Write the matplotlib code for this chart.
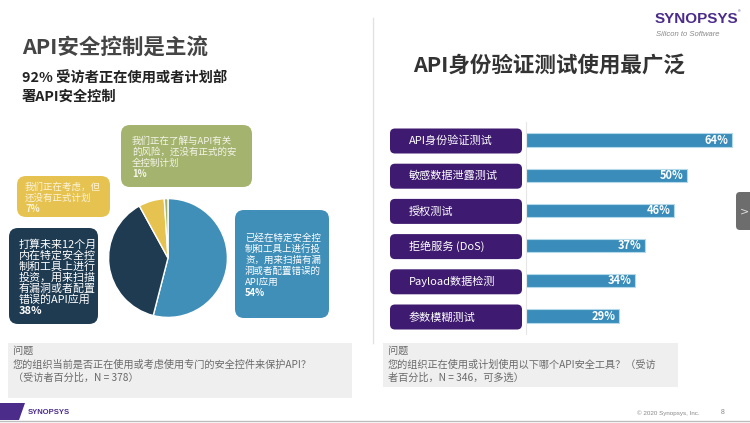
import matplotlib
matplotlib.use('Agg')
import matplotlib.pyplot as plt
from matplotlib.patches import FancyBboxPatch, Polygon

plt.rcParams['font.family'] = ['Noto Sans CJK SC', 'DejaVu Sans']

# left slide half: pie data
pie_values = [54, 38, 7, 1]
pie_pct_labels = ['54%', '38%', '7%', '1%']
pie_colors = ['#3f8fb9', '#1e3b52', '#e6c350', '#a4b46f']

# right slide half: bar data
tools = ['API身份验证测试', '敏感数据泄露测试', '授权测试', '拒绝服务 (DoS)', 'Payload数据检测', '参数模糊测试']
tool_pct = [64, 50, 46, 37, 34, 29]

W, H = 750, 423
fig = plt.figure(figsize=(7.5, 4.23), dpi=100)

# background axes in pixel coordinates
bg = fig.add_axes([0, 0, 1, 1])
bg.set_xlim(0, W)
bg.set_ylim(H, 0)
bg.axis('off')


def axes_at(x0, y0, x1, y1):
    return fig.add_axes([x0 / W, (H - y1) / H, (x1 - x0) / W, (y1 - y0) / H])


def rbox(x0, y0, x1, y1, color, r=8, **kw):
    p = FancyBboxPatch((x0 + r, y0 + r), x1 - x0 - 2 * r, y1 - y0 - 2 * r,
                       boxstyle='round,pad=%g,rounding_size=%g' % (r, r),
                       fc=color, ec='none', **kw)
    bg.add_patch(p)


def lines(x, y, txt, dy, **kw):
    for i, t in enumerate(txt):
        bg.text(x, y + i * dy, t, va='center', ha='left', **kw)


# titles
bg.text(22, 47, 'API安全控制是主流', fontsize=15.5, fontweight='bold', color='#454545', va='center')
lines(22, 79, ['92% 受访者正在使用或者计划部', '署API安全控制'], 18,
      fontsize=10.3, fontweight='bold', color='#222222')
bg.text(549, 65, 'API身份验证测试使用最广泛', fontsize=15.5, fontweight='bold',
        color='#333333', va='center', ha='center')

# divider
bg.plot([373, 373], [18, 343], color='#e2e2e2', lw=1)

# logo top right
bg.text(655, 19, 'SYNOPSYS', fontsize=11, fontweight='bold', color='#4b2c8a',
        va='center', family='Liberation Sans')
bg.text(738, 13, '®', fontsize=4, color='#4b2c8a', va='center')
bg.text(656, 34, 'Silicon to Software', fontsize=5.5, style='italic', color='#888888',
        va='center', family='Liberation Sans')

# pie
pax = axes_at(108, 198, 228, 318)
pax.pie(pie_values, colors=pie_colors, startangle=90, counterclock=False,
        wedgeprops=dict(edgecolor='white', linewidth=1))
pax.set_xlim(-1.01, 1.01)
pax.set_ylim(-1.01, 1.01)
pax.set_aspect('equal')

# pie callouts: box, text x, lines, text colour, font size
callouts = [
    (121, 125, 252, 187, pie_colors[3], 132,
     ['我们正在了解与API有关', '的风险，还没有正式的安', '全控制计划', pie_pct_labels[3]], '#f4f4ea', 6.8),
    (17, 176, 110, 217, pie_colors[2], 25,
     ['我们正在考虑，但', '还没有正式计划', pie_pct_labels[2]], '#fbf4dc', 6.8),
    (9, 228, 98, 324, pie_colors[1], 19,
     ['打算未来12个月', '内在特定安全控', '制和工具上进行', '投资，用来扫描', '有漏洞或者配置',
      '错误的API应用', pie_pct_labels[1]], 'white', 7.9),
    (235, 210, 329, 318, pie_colors[0], 245,
     ['已经在特定安全控', '制和工具上进行投', '资，用来扫描有漏', '洞或者配置错误的',
      'API应用', pie_pct_labels[0]], 'white', 6.8),
]
for x0, y0, x1, y1, c, tx, txt, tc, fs in callouts:
    rbox(x0, y0, x1, y1, c, r=9)
    n = len(txt)
    dy = 11
    ty = (y0 + y1) / 2 - (n - 1) * dy / 2 + 1.5
    for i, t in enumerate(txt):
        bg.text(tx, ty + i * dy, t, fontsize=fs, color=tc, va='center',
                fontweight='bold' if i == n - 1 else 'normal')

# bars
y_top, y_bot = 122.4, 333.6
bax = axes_at(526, y_top, 750, y_bot)
bax.patch.set_alpha(0)
ypos = list(range(len(tools)))
bars = bax.barh(ypos, tool_pct, height=0.37, color='#3a8dba', edgecolor='#b3d9ea', lw=0.8)
bax.set_xlim(0, 69.6)
bax.set_ylim(len(tools) - 0.5, -0.5)
for s in ['top', 'right', 'bottom']:
    bax.spines[s].set_visible(False)
bax.spines['left'].set_color('#e6e6e6')
bax.set_xticks([])
bax.set_yticks([])
for b, v in zip(bars, tool_pct):
    bax.text(v - 1.2, b.get_y() + b.get_height() / 2, '%d%%' % v, color='white',
             fontsize=8, fontweight='bold', ha='right', va='center')

# category label boxes, one per bar row
row_h = (y_bot - y_top) / len(tools)
for i, name in enumerate(tools):
    yc = y_top + (i + 0.5) * row_h + 1
    rbox(390, yc - 12.5, 522, yc + 12.5, '#3e1a70', r=5)
    bg.text(409, yc, name, fontsize=8, color='white', va='center')

# question boxes
bg.add_patch(plt.Rectangle((8, 343), 344, 55, fc='#efefef', ec='none'))
lines(13, 351, ['问题', '您的组织当前是否正在使用或考虑使用专门的安全控件来保护API？',
                '（受访者百分比，N = 378）'], 13.5, fontsize=7.3, color='#6a6a6a')
bg.add_patch(plt.Rectangle((383, 343), 295, 44, fc='#efefef', ec='none'))
lines(388, 351, ['问题', '您的组织正在使用或计划使用以下哪个API安全工具？（受访',
                 '者百分比，N = 346，可多选）'], 13.5, fontsize=7.3, color='#6a6a6a')

# footer
bg.add_patch(Polygon([(0, 403), (25, 403), (19, 420), (0, 420)], closed=True,
                     fc='#4b2c8a', ec='none'))
bg.text(28, 412, 'SYNOPSYS', fontsize=5.5, color='#4b2c8a', va='center',
        family='Liberation Sans', fontweight='bold')
bg.text(637, 413, '© 2020 Synopsys, Inc.', fontsize=4.5, color='#888888', va='center',
        family='Liberation Sans')
bg.text(721, 413, '8', fontsize=5, color='#888888', va='center', family='Liberation Sans')
bg.plot([0, W], [421.5, 421.5], color='#bdbdbd', lw=1)

# slide nav button
rbox(736, 192, 756, 230, '#6d6d6d', r=4)
bg.text(740, 211, '>', fontsize=8, color='#dddddd', va='center', family='DejaVu Sans')

fig.savefig('out.png', dpi=100)
